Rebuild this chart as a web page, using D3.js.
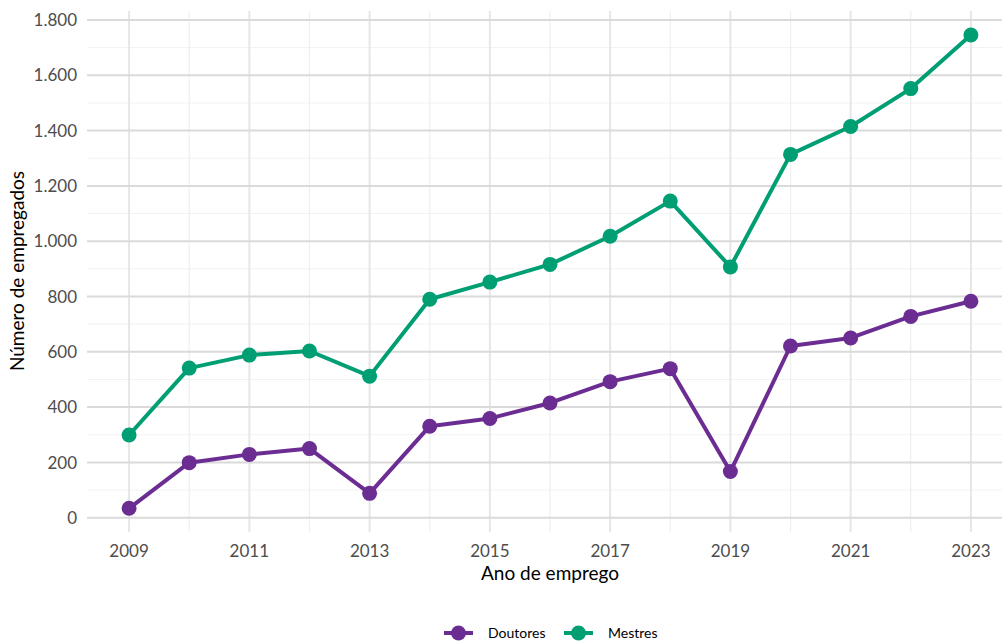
<!DOCTYPE html>
<html lang="pt">
<head>
<meta charset="UTF-8">
<title>Número de empregados</title>
<style>
  body { margin: 0; background: #fff; overflow: hidden; }
  svg { display: block; font-family: Lato, "Open Sans", sans-serif; }
</style>
</head>
<body>
<div id="chart"></div>
<script src="https://cdnjs.cloudflare.com/ajax/libs/d3/7.8.5/d3.min.js"></script>
<script>
// data
const years = [2009, 2010, 2011, 2012, 2013, 2014, 2015, 2016, 2017, 2018, 2019, 2020, 2021, 2022, 2023];
const doutores = [34, 199, 229, 250, 88, 331, 359, 415, 492, 539, 167, 621, 650, 728, 783];
const mestres = [299, 541, 588, 603, 512, 790, 852, 916, 1018, 1145, 907, 1314, 1415, 1552, 1746];
const seriesNames = ["Doutores", "Mestres"];
const colors = ["#6b2d92", "#009e73"];
const yTicks = [0, 200, 400, 600, 800, 1000, 1200, 1400, 1600, 1800];
const xTicks = [2009, 2011, 2013, 2015, 2017, 2019, 2021, 2023];

const W = 1002, H = 641;
const panel = { left: 87, right: 1013, top: 11, bottom: 532 };

const svg = d3.select("#chart").append("svg")
    .attr("width", W).attr("height", H);

const x = d3.scaleLinear().domain([2008.3, 2023.7]).range([panel.left, panel.right]);
const y = d3.scaleLinear().domain([0, 1800]).range([517.7, 20]);

// grid
const grid = svg.append("g");
const yMinor = d3.range(100, 1900, 200);
grid.selectAll(".ymin").data(yMinor).enter().append("line")
    .attr("x1", panel.left).attr("x2", panel.right)
    .attr("y1", d => y(d)).attr("y2", d => y(d))
    .attr("stroke", "#f2f2f2").attr("stroke-width", 1);
grid.selectAll(".xall").data(years).enter().append("line")
    .attr("y1", panel.top).attr("y2", panel.bottom)
    .attr("x1", d => x(d)).attr("x2", d => x(d))
    .attr("stroke", d => xTicks.includes(d) ? "#e6e6e6" : "#efefef")
    .attr("stroke-width", d => xTicks.includes(d) ? 2 : 1.2);
grid.selectAll(".ymaj").data(yTicks).enter().append("line")
    .attr("x1", panel.left).attr("x2", panel.right)
    .attr("y1", d => y(d)).attr("y2", d => y(d))
    .attr("stroke", "#dadada").attr("stroke-width", 2);

// axes labels
svg.append("g").selectAll("text").data(yTicks).enter().append("text")
    .attr("x", 77).attr("y", d => y(d)).attr("dy", "0.36em")
    .attr("text-anchor", "end").attr("font-size", 17).attr("fill", "#4d4d4d")
    .text(d => d3.format(",")(d).replace(/,/g, "."));
svg.append("g").selectAll("text").data(xTicks).enter().append("text")
    .attr("x", d => x(d)).attr("y", 557)
    .attr("text-anchor", "middle").attr("font-size", 17).attr("fill", "#4d4d4d")
    .text(d => d);

svg.append("text")
    .attr("x", 550).attr("y", 580).attr("text-anchor", "middle")
    .attr("font-size", 19).attr("fill", "#000").text("Ano de emprego");
svg.append("text")
    .attr("transform", "translate(24,271) rotate(-90)").attr("text-anchor", "middle")
    .attr("font-size", 19).attr("fill", "#000").text("Número de empregados");

// lines + points
const line = d3.line().x((d, i) => x(years[i])).y(d => y(d));
[doutores, mestres].forEach((vals, k) => {
  svg.append("path").datum(vals)
      .attr("d", line).attr("fill", "none")
      .attr("stroke", colors[k]).attr("stroke-width", 4).attr("stroke-linejoin", "round");
  svg.append("g").selectAll("circle").data(vals).enter().append("circle")
      .attr("cx", (d, i) => x(years[i])).attr("cy", d => y(d))
      .attr("r", 7.5).attr("fill", colors[k]);
});

// legend
const legX = [443, 563];
seriesNames.forEach((name, k) => {
  const g = svg.append("g").attr("transform", `translate(${legX[k]},633)`);
  g.append("line").attr("x1", 1).attr("x2", 30).attr("stroke", colors[k]).attr("stroke-width", 4);
  g.append("circle").attr("cx", 15.5).attr("r", 7.5).attr("fill", colors[k]);
  g.append("text").attr("x", 45).attr("dy", "0.36em")
      .attr("font-size", 14).attr("fill", "#000").text(name);
});
</script>
</body>
</html>
